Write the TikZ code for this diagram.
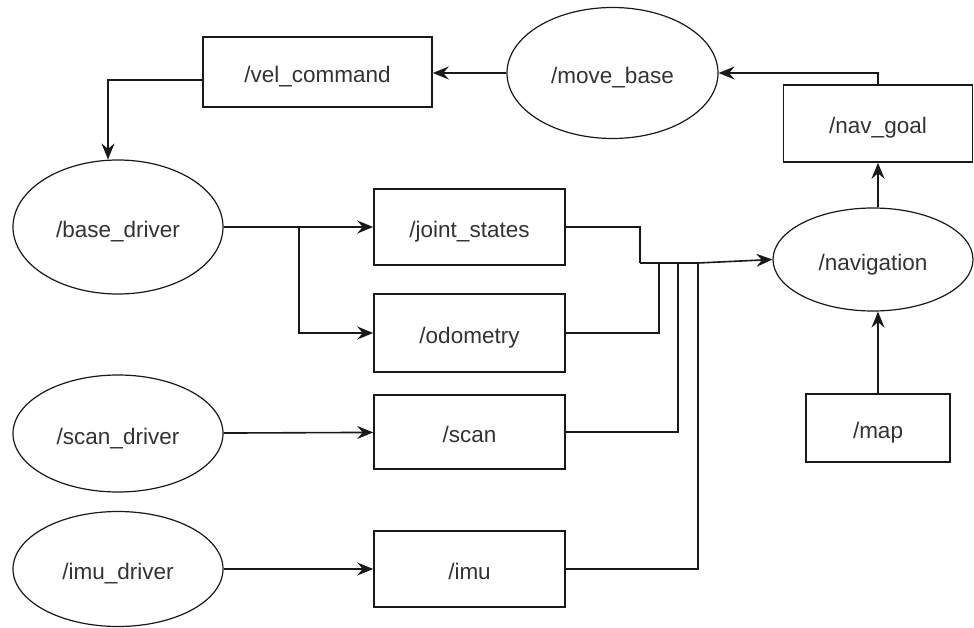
\documentclass[tikz,border=0pt]{standalone}
\usepackage{fontspec}
\setmainfont{Liberation Sans}
\usetikzlibrary{shapes.geometric,arrows.meta}
\begin{document}
\begin{tikzpicture}[x=1pt,y=-1pt,
  every node/.style={inner sep=0pt, text=black!80, text height=21pt, text depth=0pt,
    font=\fontsize{22.5}{26}\selectfont},
  topic/.style={draw=black!90, line width=1.6pt, rectangle},
  proc/.style={draw=black!90, line width=1.2pt, ellipse},
  link/.style={draw=black!90, line width=1.6pt},
  arr/.style={link, -{Stealth[length=16pt,width=13pt,inset=5.5pt]}}]
\useasboundingbox[fill=white] (0,0) rectangle (974,628);

% nodes (processes are ellipses, topics are boxes)
\node[proc, minimum width=211pt, minimum height=131pt] (movebase) at (612.5,73) {/move\_base};
\node[topic, minimum width=229pt, minimum height=70pt] (vel) at (317.5,72) {/vel\_command};
\node[topic, minimum width=189pt, minimum height=77pt] (navgoal) at (878,123.5) {/nav\_goal};
\node[proc, minimum width=210pt, minimum height=134pt] (basedrv) at (118,227) {/base\_driver};
\node[topic, minimum width=191pt, minimum height=76pt] (js) at (469.5,227) {/joint\_states};
\node[topic, minimum width=191pt, minimum height=78pt] (odo) at (469.5,333) {/odometry};
\node[proc, minimum width=200pt, minimum height=103pt] (nav) at (873,259.5) {/navigation};
\node[topic, minimum width=144pt, minimum height=68pt] (map) at (878,428) {/map};
\node[proc, minimum width=210pt, minimum height=117pt] (scandrv) at (118,433.5) {/scan\_driver};
\node[topic, minimum width=191pt, minimum height=74pt] (scan) at (469.5,432) {/scan};
\node[proc, minimum width=210pt, minimum height=115pt] (imudrv) at (118,569) {/imu\_driver};
\node[topic, minimum width=191pt, minimum height=76pt] (imu) at (469.5,569) {/imu};

% junction points
\coordinate (split) at (299,227);
\coordinate (m1) at (640,263);
\coordinate (m2) at (659,263);
\coordinate (m3) at (678,263);
\coordinate (m4) at (698,263);

% command path
\draw[arr] (movebase.west) -- (movebase.west -| vel.east);
\draw[arr] (navgoal.north) |- (movebase.east);
\draw[arr] ([yshift=-8pt]vel.west) -| ([xshift=-10pt]basedrv.north);

% driver outputs
\draw[arr] (basedrv.east) -- (js.west);
\draw[arr] (split) |- (odo.west);
\draw[arr] (scandrv) -- (scan);
\draw[arr] (imudrv) -- (imu);

% topics merging into navigation
\draw[link] (js.east) -| (m1);
\draw[link] (odo.east) -| (m2);
\draw[link] (scan.east) -| (m3);
\draw[link] (imu.east) -| (m4);
\draw[arr] (m1) -- (m4) -- (nav.west);

% map and goal
\draw[arr] (map.north) -- (map.north |- nav.south);
\draw[arr] (navgoal.south |- nav.north) -- (navgoal.south);
\end{tikzpicture}
\end{document}
